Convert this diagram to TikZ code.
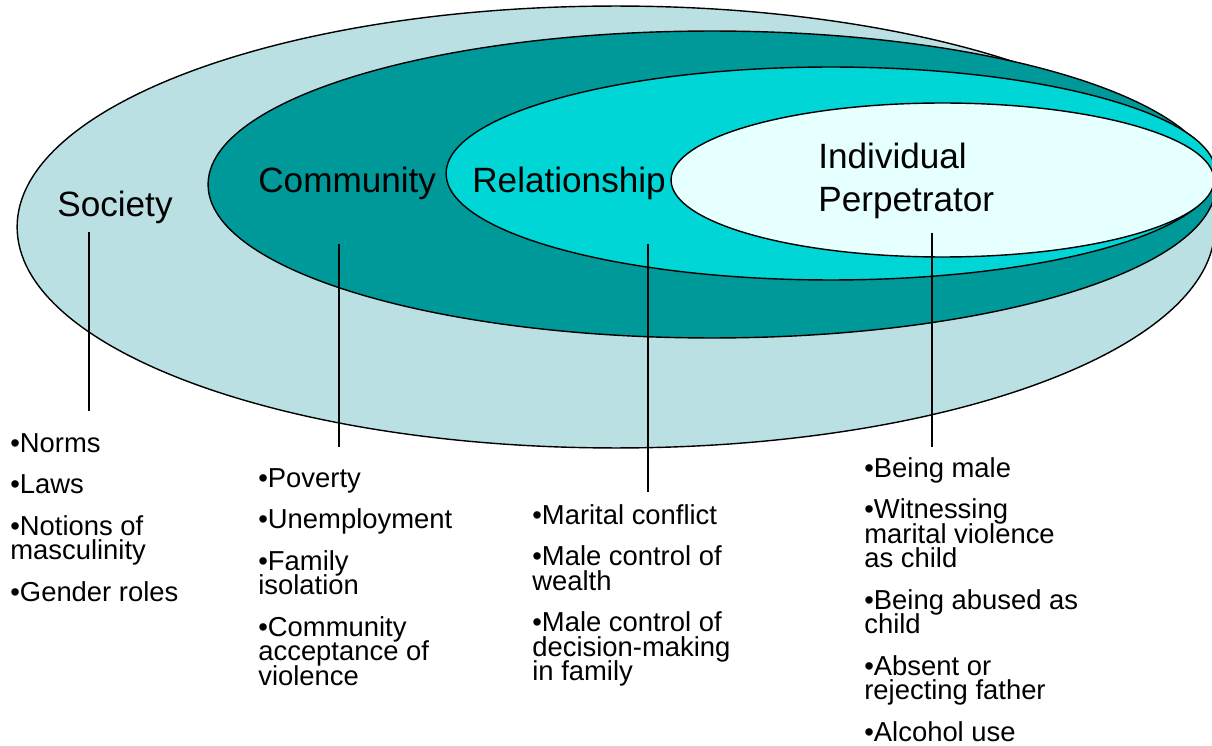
\documentclass[tikz,border=0pt]{standalone}
\usepackage{fontspec}
\setmainfont{Liberation Sans}
\usepackage{xcolor}
\definecolor{societyblue}{RGB}{187,224,227}
\definecolor{communityteal}{RGB}{0,153,153}
\definecolor{relationcyan}{RGB}{0,214,214}
\definecolor{individualice}{RGB}{230,255,255}

\begin{document}
\setlength{\lineskiplimit}{-20pt}
\begin{tikzpicture}[x=0.02cm, y=-0.02cm,
  ring/.style={draw=black, line width=0.8pt},
  level/.style={font=\fontsize{20}{24.4}\selectfont, inner sep=0pt, align=left},
  factors/.style={font=\fontsize{15.6}{13.9}\selectfont, inner sep=0pt, anchor=north west, align=left},
  stem/.style={line width=0.6pt},
]
\useasboundingbox (0,0) rectangle (1212,746);
\clip (0,0) rectangle (1212,746);

% Nested levels
\fill[societyblue, ring] (616,227) ellipse [x radius=11.98cm, y radius=4.42cm];
\fill[communityteal, ring] (712,184.5) ellipse [x radius=10.08cm, y radius=3.07cm];
\fill[relationcyan, ring] (831,173.5) ellipse [x radius=7.7cm, y radius=2.13cm];
\fill[individualice, ring] (942.5,180) ellipse [x radius=5.43cm, y radius=1.54cm];

% Level names
\node[level, anchor=base west] (society) at (57,217) {Society};
\node[level, anchor=base west] (community) at (258,193) {Community};
\node[level, anchor=base west] (relationship) at (472,193) {Relationship};
\node[level, anchor=north west] (individual) at (818,143) {Individual\\Perpetrator};

% Risk factors
\node[factors] (soclist) at (10,433) {%
  •Norms\\[9.8pt]
  •Laws\\[9.8pt]
  •Notions of\\masculinity\\[9.8pt]
  •Gender roles};
\node[factors] (comlist) at (258,468) {%
  •Poverty\\[9.8pt]
  •Unemployment\\[9.8pt]
  •Family\\isolation\\[9.8pt]
  •Community\\acceptance of\\violence};
\node[factors] (rellist) at (532,504) {%
  •Marital conflict\\[9.8pt]
  •Male control of\\wealth\\[9.8pt]
  •Male control of\\decision-making\\in family};
\node[factors] (indlist) at (864,457) {%
  •Being male\\[9.8pt]
  •Witnessing\\marital violence\\as child\\[9.8pt]
  •Being abused as\\child\\[9.8pt]
  •Absent or\\rejecting father\\[9.8pt]
  •Alcohol use};

% Stems from names to lists
\coordinate (soc-top) at (89,232);
\coordinate (soc-bot) at (89,411);
\coordinate (com-top) at (339,244);
\coordinate (com-bot) at (339,447);
\coordinate (rel-top) at (648,244);
\coordinate (rel-bot) at (648,492);
\coordinate (ind-top) at (932,233);
\coordinate (ind-bot) at (932,447);
\draw[stem] (soc-top) -- (soc-bot);
\draw[stem] (com-top) -- (com-bot);
\draw[stem] (rel-top) -- (rel-bot);
\draw[stem] (ind-top) -- (ind-bot);
\end{tikzpicture}
\end{document}
